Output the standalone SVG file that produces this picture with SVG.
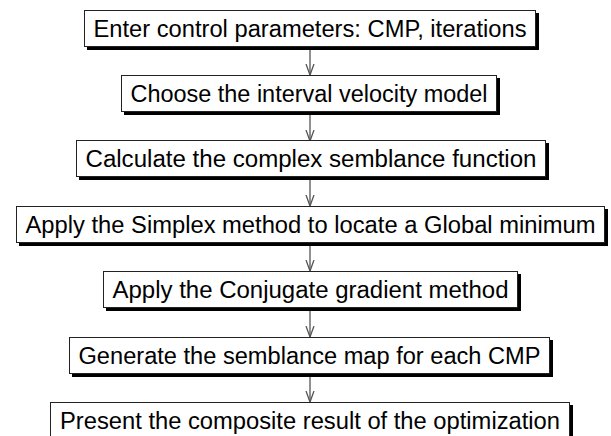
<svg xmlns="http://www.w3.org/2000/svg" width="611" height="436" viewBox="0 0 611 436">
<defs>
<style>
.sh{fill:#000}
.bx{fill:#fff;stroke:#222;stroke-width:1}
.t{font-family:"Liberation Sans",Arial,sans-serif;font-size:23px;fill:#000;text-anchor:middle}
.c{stroke:#555;stroke-width:1.3;fill:none}
</style>
<marker id="ah" markerWidth="12" markerHeight="10" refX="11" refY="5" orient="auto" markerUnits="userSpaceOnUse" viewBox="0 0 12 10">
<path d="M0,1 L11,5 L0,9" fill="none" stroke="#555" stroke-width="1.3"/>
</marker>
</defs>
<rect width="611" height="436" fill="#fff"/>
<g id="connectors">
<line class="c" x1="310" y1="50" x2="310" y2="75" marker-end="url(#ah)"/>
<line class="c" x1="310" y1="115" x2="310" y2="141" marker-end="url(#ah)"/>
<line class="c" x1="310" y1="180" x2="310" y2="206" marker-end="url(#ah)"/>
<line class="c" x1="310" y1="246" x2="310" y2="271" marker-end="url(#ah)"/>
<line class="c" x1="310" y1="311" x2="310" y2="337" marker-end="url(#ah)"/>
<line class="c" x1="310" y1="377" x2="310" y2="402" marker-end="url(#ah)"/>
</g>
<g id="n1">
<rect class="sh" x="87" y="13" width="452" height="37"/>
<rect class="bx" x="84.5" y="10.5" width="451" height="36"/>
<text class="t" x="310" y="37" textLength="433" lengthAdjust="spacingAndGlyphs">Enter control parameters: CMP, iterations</text>
</g>
<g id="n2">
<rect class="sh" x="124" y="78" width="376" height="37"/>
<rect class="bx" x="121.5" y="75.5" width="375" height="36"/>
<text class="t" x="309" y="102" textLength="357" lengthAdjust="spacingAndGlyphs">Choose the interval velocity model</text>
</g>
<g id="n3">
<rect class="sh" x="79" y="143" width="470" height="37"/>
<rect class="bx" x="76.5" y="140.5" width="469" height="36"/>
<text class="t" x="311" y="167" textLength="451" lengthAdjust="spacingAndGlyphs">Calculate the complex semblance function</text>
</g>
<g id="n4">
<rect class="sh" x="19" y="209" width="589" height="37"/>
<rect class="bx" x="16.5" y="206.5" width="588" height="36"/>
<text class="t" x="310.5" y="233" textLength="570" lengthAdjust="spacingAndGlyphs">Apply the Simplex method to locate a Global minimum</text>
</g>
<g id="n5">
<rect class="sh" x="106" y="274" width="415" height="37"/>
<rect class="bx" x="103.5" y="271.5" width="414" height="36"/>
<text class="t" x="310.5" y="298" textLength="396" lengthAdjust="spacingAndGlyphs">Apply the Conjugate gradient method</text>
</g>
<g id="n6">
<rect class="sh" x="72" y="340" width="481" height="37"/>
<rect class="bx" x="69.5" y="337.5" width="480" height="36"/>
<text class="t" x="309.5" y="364" textLength="462" lengthAdjust="spacingAndGlyphs">Generate the semblance map for each CMP</text>
</g>
<g id="n7">
<rect class="sh" x="53" y="405" width="520" height="37"/>
<rect class="bx" x="50.5" y="402.5" width="519" height="36"/>
<text class="t" x="310" y="429" textLength="500" lengthAdjust="spacingAndGlyphs">Present the composite result of the optimization</text>
</g>
</svg>
